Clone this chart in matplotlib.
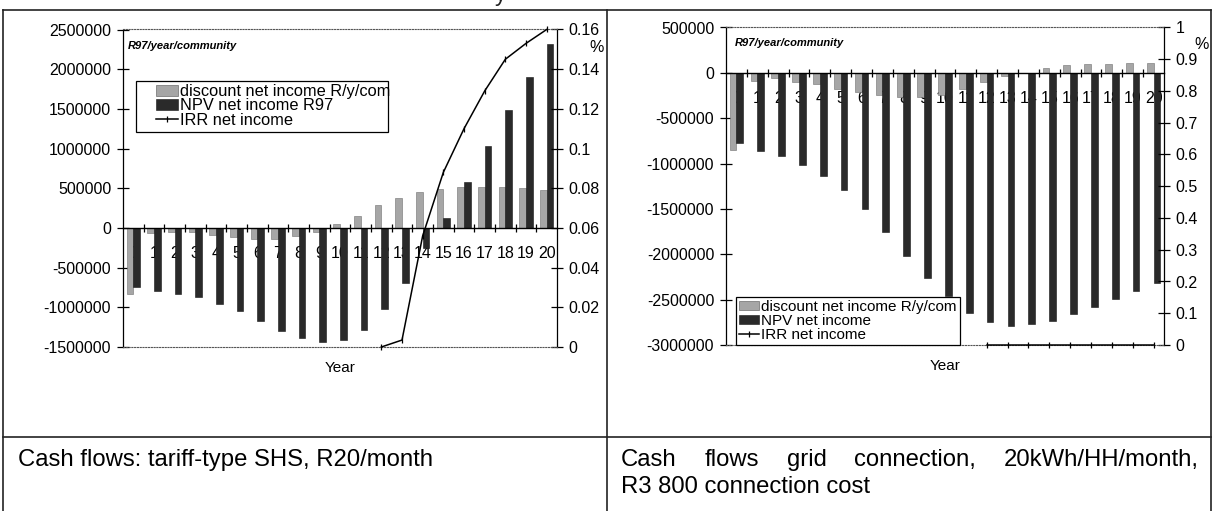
import matplotlib
matplotlib.use('Agg')
import matplotlib.pyplot as plt
from matplotlib.lines import Line2D
from matplotlib.patches import Patch, Rectangle
import numpy as np

plt.rcParams['font.family'] = ['Liberation Sans', 'DejaVu Sans']

# ---------------- data ----------------
years = list(range(21))
year_labels = [str(y) for y in years]

# left chart: tariff-type SHS, R20/month
shs_discount = [-826000, -60000, -45000, -45000, -90000, -110000, -135000, -145000,
                -105000, -55000, 55000, 155000, 290000, 373000, 449000, 490000,
                511000, 520000, 515000, 500000, 480000]
shs_npv = [-740000, -800000, -830000, -870000, -955000, -1050000, -1170000, -1300000,
           -1390000, -1440000, -1415000, -1280000, -1025000, -690000, -250000, 130000,
           575000, 1038000, 1480000, 1900000, 2320000]
shs_irr_years = [12, 13, 14, 15, 16, 17, 18, 19, 20]
shs_irr = [0.0, 0.0035, 0.056, 0.088, 0.110, 0.129, 0.145, 0.153, 0.160]
shs_yticks = [-1500000, -1000000, -500000, 0, 500000, 1000000, 1500000, 2000000, 2500000]
shs_y2ticks = [0, 0.02, 0.04, 0.06, 0.08, 0.1, 0.12, 0.14, 0.16]
shs_y2labels = ['0', '0.02', '0.04', '0.06', '0.08', '0.1', '0.12', '0.14', '0.16']
shs_legend = ['discount net income R/y/com', 'NPV net income R97', 'IRR net income']

# right chart: grid connection
grid_discount = [-852000, -88000, -62000, -99000, -125000, -173000, -209000, -246000,
                 -264000, -264000, -240000, -173000, -99000, -37000, -5000, 59000,
                 84000, 95000, 103000, 110000, 110000]
grid_npv = [-771000, -859000, -918000, -1017000, -1138000, -1292000, -1505000, -1751000,
            -2015000, -2261000, -2460000, -2650000, -2750000, -2786000, -2768000, -2731000,
            -2661000, -2577000, -2493000, -2401000, -2313000]
grid_irr_years = [12, 13, 14, 15, 16, 17, 18, 19, 20]
grid_irr = [0, 0, 0, 0, 0, 0, 0, 0, 0]
grid_yticks = [-3000000, -2500000, -2000000, -1500000, -1000000, -500000, 0, 500000]
grid_y2ticks = [0, 0.1, 0.2, 0.3, 0.4, 0.5, 0.6, 0.7, 0.8, 0.9, 1.0]
grid_y2labels = ['0', '0.1', '0.2', '0.3', '0.4', '0.5', '0.6', '0.7', '0.8', '0.9', '1']
grid_legend = ['discount net income R/y/com', 'NPV net income', 'IRR net income']

caption_left = 'Cash flows: tariff-type SHS, R20/month'
caption_right_l1 = ['Cash', 'flows', 'grid', 'connection,', '20kWh/HH/month,']
caption_right_l2 = 'R3 800 connection cost'

# ---------------- layout ----------------
W, H = 1214, 511
fig = plt.figure(figsize=(W / 100, H / 100), dpi=100)


def fx(px):
    return px / W


def fy(py):
    return 1 - py / H


DISC_C = '#a6a6a6'
NPV_C = '#2a2a2a'
FS = 11.5


def make_chart(rect, disc, npv, irr_x, irr_y, yticks, y2ticks, y2labels,
               leg_labels, leg_loc, leg_anchor, leg_fs, leg_sp, leg_frame, leg_box,
               unit_xy, pct_xy):
    ax = fig.add_axes(rect)
    x = np.array(years)
    ax.bar(x - 0.16, disc, width=0.32, color=DISC_C, edgecolor='#707070', lw=0.4, zorder=2)
    ax.bar(x + 0.16, npv, width=0.32, color=NPV_C, edgecolor='#151515', lw=0.4, zorder=2)
    ax.set_axisbelow(True)
    ax.set_xlim(-0.5, 20.5)
    ax.set_ylim(yticks[0], yticks[-1])
    ax.set_yticks(yticks)
    ax.set_yticklabels([str(v) for v in yticks])
    ax.set_xticks(years)
    ax.set_xticklabels(year_labels)
    ax.set_xticks(np.arange(0.5, 20.5, 1), minor=True)
    ax.tick_params(axis='x', which='major', length=0, pad=13, labelsize=FS)
    ax.tick_params(axis='x', which='minor', direction='inout', length=6, width=0.9)
    ax.tick_params(axis='y', direction='inout', length=9, width=0.9, pad=4, labelsize=FS)
    ax.spines['bottom'].set_position(('data', 0))
    ax.spines['bottom'].set_linewidth(1.0)
    ax.spines['top'].set_visible(False)
    ax.spines['right'].set_visible(False)
    ax.spines['left'].set_linewidth(0.9)

    ax2 = ax.twinx()
    ax2.set_ylim(y2ticks[0], y2ticks[-1])
    ax2.set_yticks(y2ticks)
    ax2.set_yticklabels(y2labels)
    ax2.tick_params(axis='y', direction='inout', length=9, width=0.9, pad=4, labelsize=FS)
    ax2.spines['left'].set_visible(False)
    for s in ('top', 'bottom'):
        ax2.spines[s].set_linestyle((0, (1, 1.5)))
        ax2.spines[s].set_color('#555555')
        ax2.spines[s].set_linewidth(0.8)
    ax2.spines['right'].set_linewidth(0.9)
    ax2.plot(irr_x, irr_y, color='black', lw=1.1, marker='|', ms=4, mew=0.9, zorder=3,
             clip_on=False)

    handles = [Patch(facecolor=DISC_C, edgecolor='#555555', lw=0.4),
               Patch(facecolor=NPV_C, edgecolor='#151515', lw=0.4),
               Line2D([], [], color='black', lw=1.1, marker='|', ms=4, mew=0.9)]
    leg = ax2.legend(handles, leg_labels, loc=leg_loc, bbox_to_anchor=leg_anchor,
                     frameon=leg_frame, fancybox=False, edgecolor='black', framealpha=1,
                     fontsize=leg_fs, labelspacing=leg_sp, handlelength=1.3,
                     handleheight=0.6, handletextpad=0.15, borderpad=0.2,
                     borderaxespad=0)
    leg.set_zorder(6)
    if leg_frame:
        leg.get_frame().set_linewidth(0.9)
    if leg_box is not None:
        ax2.add_patch(Rectangle((leg_box[0], leg_box[1]), leg_box[2], leg_box[3],
                                transform=ax2.transAxes, facecolor='white',
                                edgecolor='black', lw=0.9, zorder=5, clip_on=False))

    ax.text(unit_xy[0], unit_xy[1], 'R97/year/community', transform=ax.transAxes,
            fontsize=8, fontweight='bold', style='italic', va='center', ha='left')
    ax2.text(pct_xy[0], pct_xy[1], '%', transform=ax2.transAxes, fontsize=FS,
             ha='center', va='center')
    ax.text(0.5, -0.066, 'Year', transform=ax.transAxes, ha='center', va='center',
            fontsize=11)
    return ax, ax2


# left chart: x 123..557, y 29.5..347 px
LW_, LH_ = 557 - 123, 347 - 29.5
make_chart([fx(123), fy(347), LW_ / W, LH_ / H],
           shs_discount, shs_npv, shs_irr_years, shs_irr,
           shs_yticks, shs_y2ticks, shs_y2labels, shs_legend,
           'upper left', ((153 - 123) / LW_, (347 - 81) / LH_), 11.8, -0.05, False,
           ((136 - 123) / LW_, (347 - 132) / LH_, (388 - 136) / LW_, (132 - 81) / LH_),
           (0.012, 0.949), (1.092, 0.942))

# right chart: x 726..1164, y 27.5..345 px
make_chart([fx(726), fy(345), (1164 - 726) / W, (345 - 27.5) / H],
           grid_discount, grid_npv, grid_irr_years, grid_irr,
           grid_yticks, grid_y2ticks, grid_y2labels, grid_legend,
           'lower left', (0.023, 0.0), 11, 0.0, True, None,
           (0.02, 0.951), (1.085, 0.945))

# ---------------- table frame ----------------
LC = '#222222'
for (x0, y0, x1, y1) in [(3, 10, 1211, 10), (3, 437, 1211, 437),
                         (3, 10, 3, 511), (1211, 10, 1211, 511),
                         (606.5, 10, 606.5, 511)]:
    fig.add_artist(Line2D([fx(x0), fx(x1)], [fy(y0), fy(y1)], transform=fig.transFigure,
                          color=LC, lw=1.2))

# partial text cut at top edge (previous caption)
fig.text(fx(495), fy(1), 'y', fontsize=16.5, va='baseline', ha='left', color='#222222')

# ---------------- captions ----------------
CFS = 17.2
fig.text(fx(18), fy(466), caption_left, fontsize=CFS, va='baseline', ha='left')

renderer = fig.canvas.get_renderer()
words = []
total = 0
for w in caption_right_l1:
    t = fig.text(0, fy(466), w, fontsize=CFS, va='baseline', ha='left')
    wpx = t.get_window_extent(renderer).width
    words.append((t, wpx))
    total += wpx
x_start, x_end = 621, 1199
gap = (x_end - x_start - total) / (len(words) - 1)
xpos = x_start
for t, wpx in words:
    t.set_x(fx(xpos))
    xpos += wpx + gap
fig.text(fx(621), fy(493), caption_right_l2, fontsize=CFS, va='baseline', ha='left')

fig.savefig('out.png', dpi=100, facecolor='white')
